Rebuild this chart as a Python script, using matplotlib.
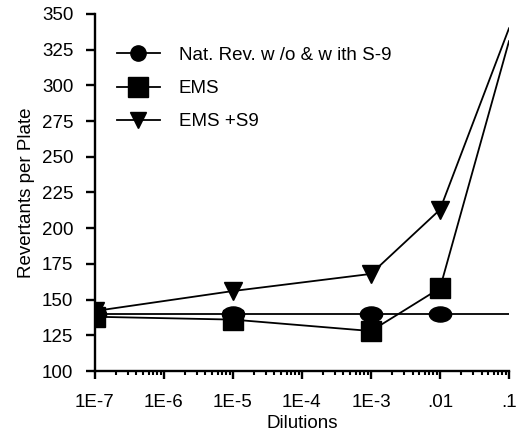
import matplotlib
matplotlib.use('Agg')
import matplotlib.pyplot as plt
from matplotlib.path import Path
from matplotlib.transforms import Affine2D
from matplotlib.lines import Line2D
from matplotlib.ticker import FixedLocator, LogLocator, NullFormatter

plt.rcParams['font.family'] = ['Liberation Sans', 'DejaVu Sans']

# data
dilutions = [1e-7, 1e-5, 1e-3, 1e-2, 1e-1]
nat_rev = [140, 140, 140, 140, 140]
ems = [138, 136, 128, 158, 331]
ems_s9 = [142, 156, 168, 213, 340]
x_ticks = [1e-7, 1e-6, 1e-5, 1e-4, 1e-3, 1e-2, 1e-1]
x_ticklabels = ['1E-7', '1E-6', '1E-5', '1E-4', '1E-3', '.01', '.1']
y_ticks = [100, 125, 150, 175, 200, 225, 250, 275, 300, 325, 350]

# squashed circle as in the original
ellipse = Path.unit_circle().transformed(Affine2D().scale(1.0, 0.68))

fs = 13.5
fig = plt.figure(figsize=(5.21, 4.37), dpi=100)
ax = fig.add_axes([0.182, 0.151, 0.795, 0.817])

lw = 1.3
ax.plot(dilutions, nat_rev, color='black', lw=lw, marker=ellipse, ms=16,
        markevery=[0, 1, 2, 3], zorder=3)
ax.plot(dilutions, ems, color='black', lw=lw, marker='s', ms=14,
        markevery=[0, 1, 2, 3], zorder=4)
ax.plot(dilutions, ems_s9, color='black', lw=lw, marker='v', ms=13,
        markevery=[0, 1, 2, 3], zorder=2)

ax.set_xscale('log')
ax.set_xlim(1e-7, 1e-1)
ax.set_ylim(100, 350)
ax.xaxis.set_major_locator(FixedLocator(x_ticks))
ax.set_xticklabels(x_ticklabels)
ax.xaxis.set_minor_locator(LogLocator(base=10, subs=range(2, 10), numticks=20))
ax.xaxis.set_minor_formatter(NullFormatter())
ax.set_yticks(y_ticks)

for s in ['top', 'right']:
    ax.spines[s].set_visible(False)
for s in ['left', 'bottom']:
    ax.spines[s].set_linewidth(1.7)
ax.tick_params(axis='y', which='major', length=6.5, width=1.7, labelsize=fs, pad=9)
ax.tick_params(axis='x', which='major', length=5.5, width=1.7, labelsize=fs, pad=11)
ax.tick_params(axis='x', which='minor', length=3, width=1.5)

ax.set_xlabel('Dilutions', fontsize=fs, labelpad=3)
ax.set_ylabel('Revertants per Plate', fontsize=fs, labelpad=5)

handles = [
    Line2D([], [], color='black', lw=lw, marker='o', ms=11),
    Line2D([], [], color='black', lw=lw, marker='s', ms=14),
    Line2D([], [], color='black', lw=lw, marker='v', ms=12),
]
labels = ['Nat. Rev. w /o & w ith S-9', 'EMS', 'EMS +S9']
ax.legend(handles, labels, loc='upper left', bbox_to_anchor=(0.012, 0.955),
          frameon=False, fontsize=fs, handlelength=2.3, handletextpad=1.0,
          labelspacing=0.85)

plt.savefig('out.png', dpi=100)
